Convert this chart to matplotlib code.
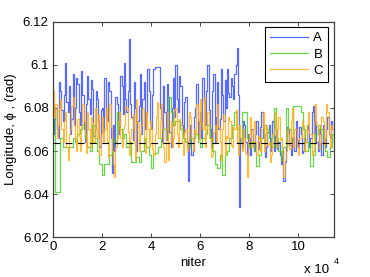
import numpy as np
import matplotlib
matplotlib.use("Agg")
import matplotlib.pyplot as plt
from matplotlib.ticker import FixedLocator, FixedFormatter

# ---- data ----
labels = ["A", "B", "C"]
step_A = 500    # iterations per recorded value
step_B = 1000
step_C = 500
x_max = 114700
phi_ref = 6.0635

series_A = [
    6.068, 6.075, 6.080, 6.070, 6.066, 6.092, 6.088, 6.079, 6.074, 6.086,
    6.101, 6.083, 6.078, 6.090, 6.068, 6.075, 6.096, 6.072, 6.080, 6.094,
    6.091, 6.078, 6.072, 6.097, 6.086, 6.070, 6.064, 6.082, 6.095, 6.084,
    6.077, 6.093, 6.089, 6.067, 6.070, 6.088, 6.084, 6.074, 6.062, 6.079,
    6.080, 6.069, 6.094, 6.076, 6.074, 6.092, 6.088, 6.066, 6.050, 6.072,
    6.060, 6.085, 6.082, 6.068, 6.071, 6.095, 6.090, 6.077, 6.101, 6.084,
    6.078, 6.088, 6.112, 6.082, 6.076, 6.065, 6.092, 6.080, 6.060, 6.074,
    6.081, 6.096, 6.068, 6.084, 6.092, 6.070, 6.077, 6.098, 6.088, 6.073,
    6.070, 6.086, 6.098, 6.099, 6.099, 6.099, 6.099, 6.080, 6.075, 6.064,
    6.090, 6.078, 6.065, 6.091, 6.085, 6.069, 6.062, 6.080, 6.094, 6.076,
    6.100, 6.084, 6.078, 6.095, 6.090, 6.072, 6.068, 6.083, 6.085, 6.062,
    6.046, 6.066, 6.072, 6.058, 6.060, 6.076, 6.080, 6.091, 6.066, 6.074,
    6.078, 6.066, 6.094, 6.083, 6.072, 6.088, 6.100, 6.079, 6.070, 6.062,
    6.088, 6.096, 6.064, 6.076, 6.092, 6.070, 6.075, 6.098, 6.086, 6.074,
    6.093, 6.080, 6.098, 6.087, 6.085, 6.094, 6.090, 6.084, 6.096, 6.100,
    6.108, 6.086, 6.034, 6.066, 6.062, 6.074, 6.072, 6.064, 6.058, 6.068,
    6.066, 6.058, 6.070, 6.063, 6.060, 6.068, 6.074, 6.061, 6.064, 6.071,
    6.078, 6.066, 6.068, 6.057, 6.062, 6.069, 6.072, 6.060, 6.066, 6.074,
    6.060, 6.067, 6.070, 6.061, 6.064, 6.058, 6.054, 6.060, 6.046, 6.055,
    6.062, 6.071, 6.070, 6.063, 6.058, 6.066, 6.066, 6.060, 6.074, 6.065,
    6.062, 6.071, 6.068, 6.059, 6.060, 6.066, 6.064, 6.072, 6.070, 6.062,
    6.066, 6.078, 6.081, 6.068, 6.074, 6.064, 6.060, 6.070, 6.068, 6.058,
    6.072, 6.064, 6.062, 6.070, 6.076, 6.068, 6.066, 6.074, 6.070, 6.064,
]
series_B = [
    6.078, 6.041, 6.041, 6.066, 6.062, 6.062, 6.062, 6.062, 6.066, 6.064,
    6.068, 6.070, 6.072, 6.066, 6.062, 6.060, 6.072, 6.066, 6.060, 6.054,
    6.049, 6.054, 6.054, 6.058, 6.066, 6.064, 6.078, 6.070, 6.066, 6.068,
    6.062, 6.064, 6.055, 6.055, 6.057, 6.055, 6.060, 6.066, 6.062, 6.058,
    6.052, 6.059, 6.059, 6.062, 6.066, 6.070, 6.066, 6.085, 6.078, 6.072,
    6.074, 6.074, 6.070, 6.066, 6.064, 6.062, 6.066, 6.066, 6.068, 6.064,
    6.062, 6.066, 6.068, 6.072, 6.066, 6.060, 6.054, 6.052, 6.058, 6.049,
    6.058, 6.060, 6.066, 6.072, 6.078, 6.070, 6.064, 6.078, 6.078, 6.066,
    6.062, 6.064, 6.060, 6.053, 6.058, 6.066, 6.072, 6.070, 6.066, 6.062,
    6.080, 6.066, 6.060, 6.056, 6.062, 6.080, 6.070, 6.064, 6.081, 6.081,
    6.081, 6.078, 6.070, 6.060, 6.064, 6.053, 6.058, 6.068, 6.072, 6.070,
    6.066, 6.060, 6.057, 6.062, 6.068,
]
series_C = [
    6.088, 6.076, 6.082, 6.066, 6.072, 6.080, 6.084, 6.070, 6.064, 6.074,
    6.078, 6.062, 6.056, 6.068, 6.070, 6.081, 6.085, 6.072, 6.066, 6.060,
    6.075, 6.067, 6.060, 6.071, 6.082, 6.074, 6.068, 6.059, 6.078, 6.070,
    6.062, 6.076, 6.073, 6.064, 6.080, 6.070, 6.066, 6.077, 6.058, 6.068,
    6.076, 6.064, 6.070, 6.080, 6.064, 6.057, 6.082, 6.071, 6.060, 6.054,
    6.048, 6.062, 6.066, 6.074, 6.078, 6.066, 6.062, 6.070, 6.072, 6.081,
    6.080, 6.069, 6.058, 6.066, 6.070, 6.077, 6.064, 6.056, 6.084, 6.073,
    6.060, 6.068, 6.072, 6.080, 6.066, 6.059, 6.078, 6.070, 6.062, 6.074,
    6.070, 6.061, 6.058, 6.068, 6.076, 6.083, 6.066, 6.074, 6.082, 6.070,
    6.062, 6.055, 6.070, 6.078, 6.056, 6.064, 6.074, 6.062, 6.066, 6.079,
    6.080, 6.068, 6.062, 6.075, 6.072, 6.064, 6.058, 6.069, 6.070, 6.060,
    6.064, 6.078, 6.076, 6.066, 6.060, 6.070, 6.068, 6.082, 6.074, 6.065,
    6.084, 6.073, 6.070, 6.085, 6.062, 6.070, 6.078, 6.066, 6.066, 6.057,
    6.058, 6.069, 6.072, 6.064, 6.082, 6.071, 6.064, 6.056, 6.070, 6.077,
    6.058, 6.067, 6.066, 6.076, 6.074, 6.063, 6.062, 6.071, 6.070, 6.079,
    6.064, 6.058, 6.072, 6.066, 6.060, 6.070, 6.066, 6.059, 6.048, 6.064,
    6.068, 6.076, 6.062, 6.070, 6.074, 6.064, 6.058, 6.067, 6.066, 6.060,
    6.070, 6.078, 6.060, 6.068, 6.072, 6.063, 6.064, 6.055, 6.058, 6.068,
    6.070, 6.078, 6.062, 6.070, 6.076, 6.065, 6.066, 6.058, 6.048, 6.056,
    6.060, 6.070, 6.068, 6.061, 6.074, 6.080, 6.062, 6.070, 6.070, 6.062,
    6.058, 6.066, 6.066, 6.074, 6.072, 6.060, 6.064, 6.072, 6.078, 6.068,
    6.068, 6.058, 6.060, 6.074, 6.082, 6.072, 6.070, 6.061, 6.064, 6.076,
    6.074, 6.063, 6.066, 6.082, 6.078, 6.068, 6.062, 6.072, 6.070, 6.064,
]
x_ticks = [0, 20000, 40000, 60000, 80000, 100000]
x_ticklabels = ["0", "2", "4", "6", "8", "10"]
y_ticks = [6.02, 6.04, 6.06, 6.08, 6.10, 6.12]
y_ticklabels = ["6.02", "6.04", "6.06", "6.08", "6.1", "6.12"]

colors = ["#2f45ff", "#44cc22", "#ffad14"]

plt.rcParams["font.family"] = ["Liberation Sans", "DejaVu Sans"]

fig = plt.figure(figsize=(3.70, 2.77), dpi=100)
ax = fig.add_axes([0.143, 0.144, 0.760, 0.777])

for lab, vals, st, col in zip(labels, [series_A, series_B, series_C],
                              [step_A, step_B, step_C], colors):
    v = np.asarray(vals)
    xs = np.arange(len(v) + 1) * st
    xs[-1] = x_max
    ys = np.append(v, v[-1])
    ax.step(xs, ys, where="post", color=col, lw=0.9, alpha=0.8, label=lab)

ax.axhline(phi_ref, color="black", lw=0.8, linestyle=(0, (6, 5)), zorder=5)

ax.set_xlim(0, x_max)
ax.set_ylim(6.02, 6.12)
ax.xaxis.set_major_locator(FixedLocator(x_ticks))
ax.xaxis.set_major_formatter(FixedFormatter(x_ticklabels))
ax.yaxis.set_major_locator(FixedLocator(y_ticks))
ax.yaxis.set_major_formatter(FixedFormatter(y_ticklabels))
ax.tick_params(direction="in", length=3, width=0.6, labelsize=9.5,
               top=True, right=True, colors="#262626", labelcolor="black", pad=3)
for s in ax.spines.values():
    s.set_color("#404040")
    s.set_linewidth(0.9)

ax.set_xlabel("niter", fontsize=9.5, labelpad=3)
ax.set_ylabel("Longitude, ϕ , (rad)", fontsize=9.5, labelpad=4)
fig.text(0.822, 0.016, "x 10", fontsize=9.5, ha="left", va="baseline")
fig.text(0.903, 0.046, "4", fontsize=6.5, ha="left", va="baseline")

leg = ax.legend(loc="upper right", bbox_to_anchor=(0.979, 0.977), borderaxespad=0,
                fancybox=False, framealpha=1, edgecolor="black", fontsize=9.5,
                handlelength=2.9, labelspacing=0.3, borderpad=0.4, handletextpad=0.4)
leg.get_frame().set_linewidth(0.8)

fig.savefig("out.png", dpi=100)
